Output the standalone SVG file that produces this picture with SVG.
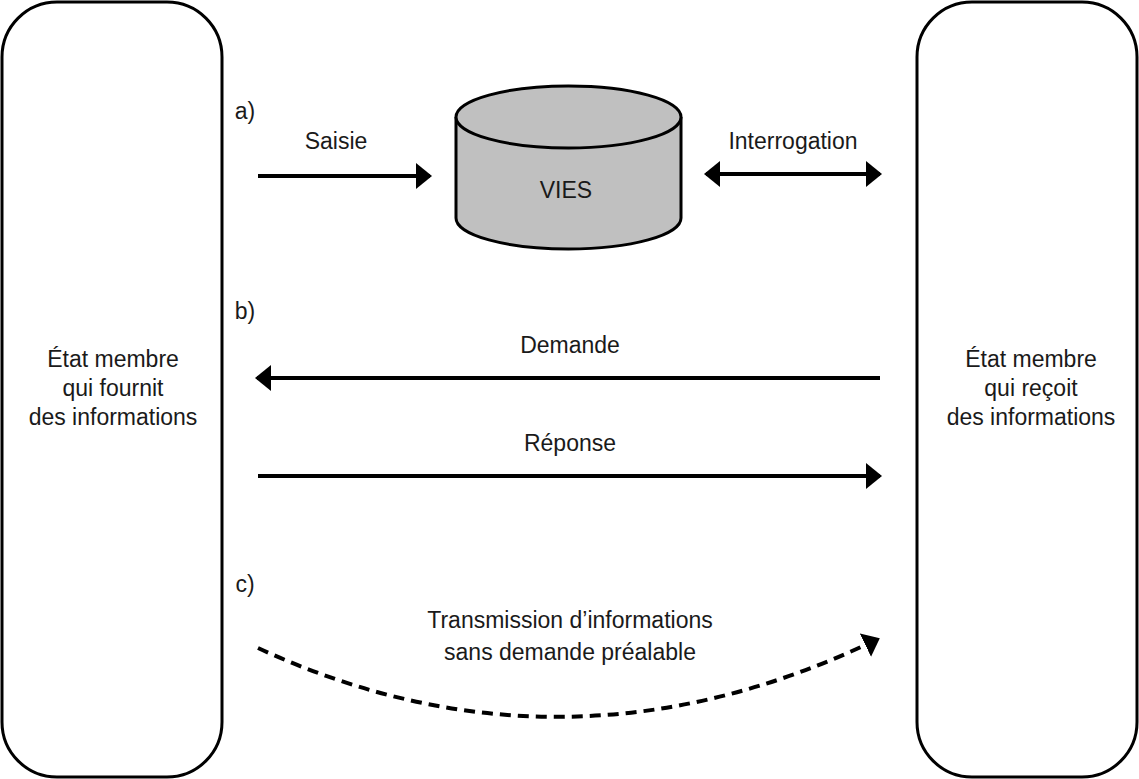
<svg xmlns="http://www.w3.org/2000/svg" width="1139" height="779" viewBox="0 0 1139 779">
<style>
text{font-family:"Liberation Sans",Arial,sans-serif;font-size:23px;fill:#1a1a1a;text-anchor:middle}
.box{fill:#fff;stroke:#000;stroke-width:3}
.ln{stroke:#000;stroke-width:4;fill:none}
.dash{stroke:#000;stroke-width:4;fill:none;stroke-dasharray:11 7}
</style>
<defs>
<marker id="ah" viewBox="0 0 16 26" refX="14" refY="13" markerWidth="16" markerHeight="26" markerUnits="userSpaceOnUse" orient="auto-start-reverse">
<path d="M0,0 L16,13 L0,26 z" fill="#000"/>
</marker>
</defs>
<rect width="1139" height="779" fill="#fff"/>
<g id="left">
<rect class="box" x="2" y="2" width="220" height="775" rx="55" ry="55"/>
<text x="113" y="367">État membre</text>
<text x="113" y="396">qui fournit</text>
<text x="113" y="425">des informations</text>
</g>
<g id="right">
<rect class="box" x="917" y="2" width="220" height="775" rx="55" ry="55"/>
<text x="1031" y="367">État membre</text>
<text x="1031" y="396">qui reçoit</text>
<text x="1031" y="425">des informations</text>
</g>
<g id="vies">
<path d="M456,117 L456,218 A112.5,31 0 0 0 681,218 L681,117" fill="#c0c0c0" stroke="#000" stroke-width="3"/>
<ellipse cx="568.5" cy="117" rx="112.5" ry="31" fill="#c0c0c0" stroke="#000" stroke-width="3"/>
<text x="566" y="198">VIES</text>
</g>
<g id="labels">
<text x="245" y="119">a)</text>
<text x="245" y="319">b)</text>
<text x="245" y="592">c)</text>
<text x="336" y="149">Saisie</text>
<text x="793" y="149">Interrogation</text>
<text x="570" y="353">Demande</text>
<text x="570" y="451">Réponse</text>
<text x="570" y="628">Transmission d’informations</text>
<text x="570" y="660">sans demande préalable</text>
</g>
<g id="connectors">
<line class="ln" x1="258" y1="176" x2="430" y2="176" marker-end="url(#ah)"/>
<line class="ln" x1="706" y1="174" x2="880" y2="174" marker-start="url(#ah)" marker-end="url(#ah)"/>
<line class="ln" x1="880" y1="378" x2="257" y2="378" marker-end="url(#ah)"/>
<line class="ln" x1="258" y1="476" x2="880" y2="476" marker-end="url(#ah)"/>
<path class="dash" d="M258,648 Q565,790 878,639" marker-end="url(#ah)"/>
</g>
</svg>
